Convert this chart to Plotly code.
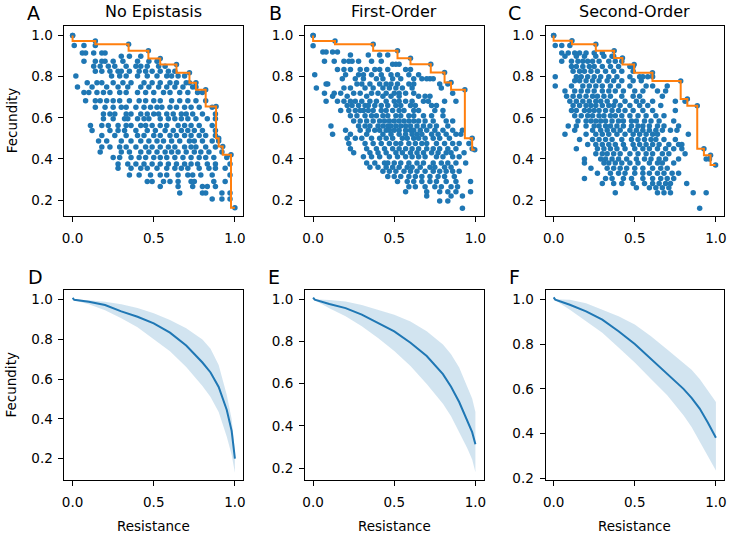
import plotly.graph_objects as go

# ---------------- data ----------------
# Top row scatter: rows of (fecundity, [resistance values])
A_ROWS = [
    (1.00, [0.00]),
    (0.952, [0.01, 0.07, 0.14]),
    (0.915, [0.06, 0.08, 0.13, 0.18, 0.20]),
    (0.90, [0.30, 0.35, 0.42]),
    (0.875, [0.07, 0.14, 0.18, 0.20, 0.25, 0.31, 0.40, 0.47, 0.52]),
    (0.851, [0.13, 0.17, 0.22, 0.26, 0.33, 0.39, 0.42, 0.46, 0.53, 0.57]),
    (0.827, [0.14, 0.18, 0.23, 0.28, 0.30, 0.35, 0.41, 0.45, 0.49, 0.54, 0.59, 0.63]),
    (0.803, [0.02, 0.24, 0.29, 0.33, 0.40, 0.46, 0.52, 0.58, 0.61, 0.65, 0.69]),
    (0.771, [0.09, 0.15, 0.18, 0.25, 0.31, 0.36, 0.44, 0.49, 0.54, 0.60, 0.64, 0.70, 0.72]),
    (0.75, [0.03, 0.12, 0.21, 0.28, 0.34, 0.42, 0.47, 0.53, 0.58, 0.63, 0.68, 0.74, 0.76]),
    (0.723, [0.07, 0.10, 0.15, 0.19, 0.23, 0.29, 0.33, 0.40, 0.45, 0.50, 0.56, 0.60, 0.66, 0.71, 0.77, 0.80]),
    (0.683, [0.08, 0.14, 0.17, 0.21, 0.25, 0.29, 0.35, 0.41, 0.45, 0.50, 0.54, 0.61, 0.66, 0.71, 0.76, 0.82]),
    (0.651, [0.14, 0.20, 0.25, 0.30, 0.33, 0.39, 0.44, 0.48, 0.52, 0.55, 0.60, 0.64, 0.69, 0.73, 0.78, 0.86]),
    (0.619, [0.19, 0.23, 0.26, 0.33, 0.36, 0.42, 0.46, 0.50, 0.53, 0.58, 0.62, 0.67, 0.70, 0.74, 0.80, 0.88]),
    (0.595, [0.19, 0.25, 0.32, 0.34, 0.40, 0.44, 0.47, 0.54, 0.59, 0.63, 0.67, 0.71, 0.76, 0.83, 0.88]),
    (0.562, [0.11, 0.18, 0.22, 0.28, 0.33, 0.36, 0.42, 0.45, 0.49, 0.54, 0.58, 0.65, 0.69, 0.73, 0.78, 0.86]),
    (0.538, [0.12, 0.23, 0.28, 0.32, 0.39, 0.46, 0.51, 0.57, 0.62, 0.67, 0.71, 0.75, 0.80, 0.88]),
    (0.514, [0.18, 0.26, 0.33, 0.40, 0.44, 0.50, 0.54, 0.60, 0.64, 0.69, 0.73, 0.78, 0.82, 0.88]),
    (0.487, [0.16, 0.21, 0.30, 0.36, 0.42, 0.47, 0.52, 0.56, 0.61, 0.66, 0.72, 0.75, 0.80, 0.86, 0.90]),
    (0.458, [0.18, 0.23, 0.29, 0.33, 0.39, 0.45, 0.49, 0.54, 0.59, 0.63, 0.69, 0.73, 0.76, 0.82, 0.88]),
    (0.434, [0.17, 0.30, 0.35, 0.42, 0.47, 0.52, 0.57, 0.61, 0.65, 0.70, 0.75, 0.79, 0.84, 0.92]),
    (0.407, [0.25, 0.29, 0.36, 0.41, 0.45, 0.50, 0.54, 0.58, 0.63, 0.68, 0.73, 0.78, 0.82, 0.87, 0.95]),
    (0.375, [0.28, 0.34, 0.39, 0.44, 0.49, 0.54, 0.59, 0.64, 0.69, 0.73, 0.77, 0.83, 0.88, 0.97]),
    (0.354, [0.28, 0.36, 0.42, 0.46, 0.52, 0.58, 0.63, 0.67, 0.71, 0.78, 0.84, 0.88, 0.94]),
    (0.322, [0.35, 0.41, 0.48, 0.54, 0.58, 0.65, 0.71, 0.74, 0.79, 0.86, 0.97]),
    (0.29, [0.46, 0.49, 0.56, 0.60, 0.65, 0.73, 0.75, 0.87, 0.94]),
    (0.266, [0.54, 0.65, 0.74, 0.80, 0.83, 0.88]),
    (0.234, [0.66, 0.80, 0.82, 0.92, 0.97]),
    (0.205, [0.86, 0.92, 0.97]),
]
A_FRONT_X = [0.00, 0.14, 0.345, 0.467, 0.54, 0.64, 0.72, 0.76, 0.82, 0.884, 0.90, 0.925, 0.976, 1.00]
A_FRONT_Y = [1.00, 0.974, 0.958, 0.926, 0.888, 0.859, 0.819, 0.771, 0.736, 0.655, 0.50, 0.46, 0.42, 0.162]

B_ROWS = [
    (1.00, [0.00]),
    (0.95, [0.00]),
    (0.92, [0.06, 0.08, 0.12, 0.15]),
    (0.905, [0.23, 0.34, 0.41, 0.46]),
    (0.875, [0.07, 0.13, 0.19, 0.22, 0.24, 0.28, 0.36, 0.42]),
    (0.86, [0.49, 0.51, 0.53]),
    (0.835, [0.15, 0.19, 0.23, 0.29, 0.33, 0.38, 0.41, 0.46, 0.57, 0.60]),
    (0.81, [0.01, 0.20, 0.28, 0.31, 0.36, 0.42, 0.48, 0.52, 0.59, 0.65]),
    (0.79, [0.18, 0.26, 0.31, 0.39, 0.43, 0.49, 0.54, 0.62, 0.67, 0.70, 0.72, 0.74]),
    (0.765, [0.08, 0.09, 0.27, 0.30, 0.35, 0.41, 0.45, 0.48, 0.52, 0.59, 0.62, 0.78, 0.83]),
    (0.745, [0.02, 0.19, 0.23, 0.32, 0.37, 0.43, 0.47, 0.51, 0.55, 0.61, 0.79]),
    (0.72, [0.07, 0.13, 0.17, 0.25, 0.29, 0.36, 0.40, 0.45, 0.50, 0.53, 0.57, 0.62, 0.86]),
    (0.705, [0.12, 0.21, 0.33, 0.43, 0.48, 0.53, 0.65, 0.69, 0.72]),
    (0.68, [0.08, 0.15, 0.19, 0.23, 0.26, 0.30, 0.35, 0.39, 0.45, 0.50, 0.53, 0.57, 0.61, 0.68, 0.71, 0.81, 0.88]),
    (0.66, [0.21, 0.24, 0.28, 0.32, 0.34, 0.38, 0.42, 0.46, 0.51, 0.54, 0.60, 0.63, 0.73, 0.76]),
    (0.635, [0.17, 0.22, 0.26, 0.29, 0.31, 0.34, 0.37, 0.42, 0.45, 0.49, 0.53, 0.56, 0.62, 0.65, 0.75, 0.80]),
    (0.61, [0.23, 0.27, 0.32, 0.36, 0.39, 0.43, 0.46, 0.51, 0.54, 0.59, 0.62, 0.68, 0.73, 0.80]),
    (0.585, [0.25, 0.29, 0.33, 0.37, 0.41, 0.44, 0.47, 0.50, 0.53, 0.56, 0.59, 0.62, 0.65, 0.69, 0.74, 0.82, 0.86]),
    (0.56, [0.11, 0.28, 0.32, 0.35, 0.40, 0.43, 0.46, 0.48, 0.51, 0.54, 0.57, 0.60, 0.64, 0.68, 0.72, 0.76, 0.83]),
    (0.54, [0.20, 0.29, 0.34, 0.38, 0.41, 0.45, 0.47, 0.50, 0.53, 0.57, 0.60, 0.62, 0.66, 0.70, 0.75, 0.80, 0.86, 0.92]),
    (0.52, [0.12, 0.23, 0.33, 0.43, 0.48, 0.53, 0.57, 0.61, 0.64, 0.67, 0.73, 0.77, 0.82, 0.88, 0.91]),
    (0.50, [0.21, 0.26, 0.30, 0.36, 0.41, 0.45, 0.49, 0.55, 0.58, 0.62, 0.65, 0.69, 0.74, 0.78, 0.84]),
    (0.475, [0.22, 0.32, 0.37, 0.42, 0.47, 0.51, 0.54, 0.59, 0.63, 0.67, 0.70, 0.76, 0.81, 0.86, 0.90, 0.96]),
    (0.45, [0.23, 0.33, 0.39, 0.44, 0.49, 0.53, 0.57, 0.61, 0.65, 0.70, 0.74, 0.78, 0.83, 0.88, 0.98]),
    (0.43, [0.25, 0.35, 0.40, 0.45, 0.51, 0.55, 0.60, 0.64, 0.68, 0.73, 0.77, 0.82, 0.85, 0.93]),
    (0.41, [0.31, 0.36, 0.41, 0.47, 0.52, 0.57, 0.61, 0.65, 0.69, 0.76, 0.80, 0.86, 0.90]),
    (0.38, [0.33, 0.38, 0.44, 0.46, 0.50, 0.54, 0.59, 0.64, 0.68, 0.74, 0.79, 0.83, 0.88, 0.94]),
    (0.36, [0.35, 0.40, 0.45, 0.49, 0.53, 0.58, 0.61, 0.66, 0.72, 0.75, 0.81, 0.85]),
    (0.34, [0.43, 0.47, 0.51, 0.56, 0.60, 0.64, 0.69, 0.74, 0.78, 0.82, 0.86, 0.90]),
    (0.315, [0.46, 0.50, 0.54, 0.59, 0.63, 0.67, 0.72, 0.77, 0.81, 0.87]),
    (0.29, [0.52, 0.58, 0.62, 0.67, 0.72, 0.76, 0.82, 0.88, 0.97]),
    (0.265, [0.59, 0.63, 0.69, 0.75, 0.79, 0.85, 0.89]),
    (0.24, [0.57, 0.70, 0.78, 0.83, 0.88, 0.97]),
    (0.22, [0.70, 0.85, 0.92]),
    (0.195, [0.78, 0.83]),
    (0.16, [0.92]),
]
B_FRONT_X = [0.00, 0.135, 0.37, 0.52, 0.60, 0.725, 0.81, 0.85, 0.935, 0.98, 0.996]
B_FRONT_Y = [1.00, 0.974, 0.958, 0.926, 0.89, 0.86, 0.82, 0.772, 0.736, 0.50, 0.445]

C_ROWS = [
    (1.00, [0.00]),
    (0.952, [0.01, 0.05, 0.10]),
    (0.915, [0.05, 0.09, 0.13, 0.16, 0.20, 0.25, 0.30]),
    (0.90, [0.07, 0.14, 0.19, 0.26, 0.31, 0.36, 0.37]),
    (0.875, [0.05, 0.11, 0.15, 0.18, 0.21, 0.24, 0.28, 0.34, 0.38, 0.42]),
    (0.85, [0.11, 0.14, 0.18, 0.22, 0.25, 0.30, 0.35, 0.40, 0.47, 0.49]),
    (0.827, [0.12, 0.16, 0.19, 0.23, 0.27, 0.32, 0.37, 0.42, 0.49]),
    (0.80, [0.01, 0.14, 0.17, 0.21, 0.25, 0.29, 0.34, 0.39, 0.47, 0.53, 0.55, 0.58, 0.61]),
    (0.78, [0.13, 0.16, 0.20, 0.24, 0.28, 0.33, 0.37, 0.42, 0.49, 0.54]),
    (0.755, [0.01, 0.11, 0.18, 0.22, 0.26, 0.30, 0.35, 0.40, 0.47, 0.57, 0.61, 0.70]),
    (0.73, [0.07, 0.13, 0.17, 0.21, 0.25, 0.30, 0.34, 0.38, 0.43, 0.50, 0.55, 0.64, 0.69]),
    (0.705, [0.08, 0.12, 0.16, 0.20, 0.24, 0.27, 0.31, 0.35, 0.42, 0.49, 0.53, 0.67]),
    (0.68, [0.10, 0.14, 0.18, 0.22, 0.26, 0.29, 0.33, 0.38, 0.44, 0.51, 0.55, 0.61, 0.75, 0.81]),
    (0.66, [0.12, 0.16, 0.20, 0.23, 0.26, 0.30, 0.34, 0.37, 0.41, 0.47, 0.53, 0.58, 0.66]),
    (0.635, [0.11, 0.14, 0.19, 0.22, 0.25, 0.28, 0.32, 0.36, 0.40, 0.44, 0.49, 0.55, 0.61, 0.75]),
    (0.61, [0.13, 0.17, 0.21, 0.24, 0.28, 0.31, 0.35, 0.38, 0.42, 0.47, 0.52, 0.57, 0.63, 0.68]),
    (0.585, [0.15, 0.20, 0.23, 0.26, 0.29, 0.32, 0.36, 0.40, 0.43, 0.48, 0.51, 0.56, 0.60, 0.65, 0.74]),
    (0.56, [0.09, 0.14, 0.20, 0.25, 0.28, 0.32, 0.35, 0.39, 0.43, 0.48, 0.52, 0.55, 0.59, 0.64, 0.68, 0.77]),
    (0.54, [0.13, 0.24, 0.29, 0.33, 0.37, 0.41, 0.47, 0.51, 0.55, 0.59, 0.63, 0.67, 0.72, 0.76]),
    (0.52, [0.07, 0.20, 0.26, 0.30, 0.34, 0.39, 0.44, 0.49, 0.53, 0.57, 0.61, 0.64, 0.83]),
    (0.495, [0.16, 0.24, 0.28, 0.32, 0.36, 0.42, 0.48, 0.52, 0.56, 0.60, 0.63, 0.68, 0.75]),
    (0.47, [0.21, 0.26, 0.30, 0.34, 0.38, 0.43, 0.49, 0.53, 0.57, 0.61, 0.65, 0.71, 0.77, 0.79]),
    (0.45, [0.14, 0.27, 0.31, 0.35, 0.39, 0.44, 0.50, 0.55, 0.59, 0.64, 0.69, 0.74, 0.79]),
    (0.425, [0.26, 0.30, 0.33, 0.37, 0.41, 0.47, 0.52, 0.57, 0.61, 0.67, 0.71, 0.81]),
    (0.40, [0.19, 0.29, 0.32, 0.36, 0.40, 0.45, 0.51, 0.56, 0.60, 0.65, 0.69, 0.77, 0.94, 0.96]),
    (0.38, [0.19, 0.31, 0.34, 0.38, 0.42, 0.47, 0.52, 0.59, 0.64, 0.67, 0.74]),
    (0.355, [0.23, 0.33, 0.37, 0.41, 0.45, 0.50, 0.55, 0.61, 0.66, 0.70]),
    (0.33, [0.27, 0.35, 0.40, 0.44, 0.50, 0.55, 0.59, 0.64, 0.68, 0.73, 0.77]),
    (0.305, [0.19, 0.32, 0.36, 0.43, 0.48, 0.55, 0.61, 0.66, 0.70, 0.74]),
    (0.28, [0.30, 0.37, 0.42, 0.49, 0.56, 0.61, 0.65, 0.69, 0.72, 0.82]),
    (0.26, [0.51, 0.59, 0.63, 0.67, 0.71]),
    (0.235, [0.38, 0.64, 0.68, 0.72, 0.86, 0.94]),
    (0.16, [0.90]),
]
C_FRONT_X = [0.00, 0.113, 0.26, 0.373, 0.424, 0.496, 0.609, 0.783, 0.824, 0.885, 0.926, 0.967, 0.998]
C_FRONT_Y = [1.00, 0.975, 0.958, 0.926, 0.891, 0.859, 0.819, 0.779, 0.691, 0.659, 0.45, 0.418, 0.37]

# Bottom row: mean curve and band
CURVE_X = [0.0, 0.01, 0.1, 0.2, 0.3, 0.4, 0.5, 0.6, 0.7, 0.8, 0.85, 0.9, 0.95, 0.98, 1.0]
D_MEAN = [1.008, 0.998, 0.988, 0.972, 0.94, 0.913, 0.88, 0.833, 0.768, 0.683, 0.633, 0.56, 0.445, 0.34, 0.20]
D_UP = [1.008, 1.0, 0.996, 0.988, 0.975, 0.957, 0.93, 0.897, 0.855, 0.798, 0.752, 0.67, 0.52, 0.40, 0.24]
D_LO = [1.008, 0.995, 0.975, 0.945, 0.905, 0.86, 0.80, 0.74, 0.66, 0.565, 0.51, 0.435, 0.31, 0.22, 0.13]
E_MEAN = [1.008, 0.998, 0.978, 0.958, 0.927, 0.888, 0.848, 0.794, 0.731, 0.645, 0.585, 0.513, 0.427, 0.37, 0.313]
E_UP = [1.008, 1.0, 0.997, 0.989, 0.973, 0.95, 0.927, 0.895, 0.848, 0.786, 0.74, 0.677, 0.59, 0.53, 0.466]
E_LO = [1.008, 0.995, 0.958, 0.919, 0.872, 0.817, 0.755, 0.684, 0.598, 0.505, 0.445, 0.372, 0.294, 0.24, 0.18]
F_MEAN = [1.008, 0.998, 0.975, 0.946, 0.909, 0.857, 0.80, 0.732, 0.666, 0.60, 0.56, 0.512, 0.45, 0.41, 0.382]
F_UP = [1.008, 1.0, 0.997, 0.982, 0.953, 0.924, 0.887, 0.835, 0.776, 0.718, 0.685, 0.644, 0.595, 0.565, 0.541]
F_LO = [1.008, 0.995, 0.953, 0.901, 0.85, 0.784, 0.718, 0.644, 0.571, 0.482, 0.43, 0.365, 0.30, 0.26, 0.235]

TITLES = ["No Epistasis", "First-Order", "Second-Order"]
LETTERS = ["A", "B", "C", "D", "E", "F"]
X_TICKS = [0.0, 0.5, 1.0]
X_TICKTEXT = ["0.0", "0.5", "1.0"]
Y_TICKS = [0.2, 0.4, 0.6, 0.8, 1.0]
Y_TICKTEXT = ["0.2", "0.4", "0.6", "0.8", "1.0"]

# ---------------- figure ----------------
W, H = 730, 535
BLUE = "#1f77b4"
ORANGE = "#ff7f0e"
FONT = "DejaVu Sans"

COLS = [(62, 242), (304.5, 484.5), (547, 727)]
TOP_ROW = (26, 218.3)
BOT_ROW = (293.3, 485.7)
Y_RANGES = [(0.123, 1.048)] * 3 + [(0.092, 1.047), (0.142, 1.044), (0.192, 1.041)]


def xdom(c):
    return [c[0] / W, c[1] / W]


def ydom(r):
    return [1 - r[1] / H, 1 - r[0] / H]


fig = go.Figure()


def flat(rows):
    xs, ys = [], []
    for y, row in rows:
        for x in row:
            xs.append(x)
            ys.append(y)
    return xs, ys


for i, (rows, fx, fy) in enumerate([(A_ROWS, A_FRONT_X, A_FRONT_Y),
                                     (B_ROWS, B_FRONT_X, B_FRONT_Y),
                                     (C_ROWS, C_FRONT_X, C_FRONT_Y)]):
    ax = "" if i == 0 else str(i + 1)
    xs, ys = flat(rows)
    xs += fx
    ys += fy
    fig.add_trace(go.Scatter(x=xs, y=ys, mode="markers", xaxis="x" + ax, yaxis="y" + ax,
                             marker=dict(color=BLUE, size=5.5, line=dict(width=0)),
                             showlegend=False, hoverinfo="skip"))
    fig.add_trace(go.Scatter(x=fx, y=fy, mode="lines", xaxis="x" + ax, yaxis="y" + ax,
                             line=dict(color=ORANGE, width=2, shape="vh"),
                             showlegend=False, hoverinfo="skip"))

for i, (mean, up, lo) in enumerate([(D_MEAN, D_UP, D_LO), (E_MEAN, E_UP, E_LO), (F_MEAN, F_UP, F_LO)]):
    ax = str(i + 4)
    fig.add_trace(go.Scatter(x=CURVE_X, y=up, mode="lines", xaxis="x" + ax, yaxis="y" + ax,
                             line=dict(width=0, color=BLUE), showlegend=False, hoverinfo="skip"))
    fig.add_trace(go.Scatter(x=CURVE_X, y=lo, mode="lines", xaxis="x" + ax, yaxis="y" + ax,
                             line=dict(width=0, color=BLUE), fill="tonexty",
                             fillcolor="rgba(31,119,180,0.2)", showlegend=False, hoverinfo="skip"))
    fig.add_trace(go.Scatter(x=CURVE_X, y=mean, mode="lines", xaxis="x" + ax, yaxis="y" + ax,
                             line=dict(width=2, color=BLUE), showlegend=False, hoverinfo="skip"))

axis_common = dict(showline=True, mirror=True, linecolor="black", linewidth=1,
                   ticks="outside", ticklen=5, tickwidth=1, tickcolor="black",
                   showgrid=False, zeroline=False,
                   tickfont=dict(family=FONT, size=13.5, color="black"))

layout = dict(width=W, height=H, margin=dict(l=0, r=0, t=0, b=0),
              paper_bgcolor="white", plot_bgcolor="white", showlegend=False,
              font=dict(family=FONT, color="black"))

for i in range(6):
    n = "" if i == 0 else str(i + 1)
    col = COLS[i % 3]
    row = TOP_ROW if i < 3 else BOT_ROW
    layout["xaxis" + n] = dict(axis_common, domain=xdom(col), range=[-0.05, 1.05],
                               tickvals=X_TICKS, ticktext=X_TICKTEXT,
                               ticklabelstandoff=5, anchor="y" + n)
    layout["yaxis" + n] = dict(axis_common, domain=ydom(row), range=list(Y_RANGES[i]),
                               tickvals=Y_TICKS, ticktext=Y_TICKTEXT,
                               ticklabelstandoff=3, anchor="x" + n)

ann = []
for i, t in enumerate(TITLES):
    cx = (COLS[i][0] + COLS[i][1]) / 2
    ann.append(dict(text=t, x=cx / W, y=1 - 11.5 / H, xref="paper", yref="paper",
                    xanchor="center", yanchor="middle", showarrow=False,
                    font=dict(family=FONT, size=16, color="black")))
LETTER_POS = [(22, 0), (266, 0), (507, 0), (23, 267), (265, 267), (508, 267)]
for L, (px, py) in zip(LETTERS, LETTER_POS):
    ann.append(dict(text=L, x=px / W, y=1 - py / H, xref="paper", yref="paper",
                    xanchor="left", yanchor="top", showarrow=False,
                    font=dict(family=FONT, size=19, color="black")))
for r in (TOP_ROW, BOT_ROW):
    ann.append(dict(text="Fecundity", x=8.5 / W, y=1 - (r[0] + r[1]) / 2 / H,
                    xref="paper", yref="paper", xanchor="center", yanchor="middle",
                    textangle=-90, showarrow=False,
                    font=dict(family=FONT, size=13.5, color="black")))
for c in COLS:
    ann.append(dict(text="Resistance", x=(c[0] + c[1]) / 2 / W, y=1 - 532 / H,
                    xref="paper", yref="paper", xanchor="center", yanchor="middle",
                    showarrow=False, font=dict(family=FONT, size=13.5, color="black")))
layout["annotations"] = ann

fig.update_layout(**layout)
fig.write_html("out.html", config={"displayModeBar": False},
               post_script="document.body.style.margin='0';document.body.style.overflow='hidden';")
